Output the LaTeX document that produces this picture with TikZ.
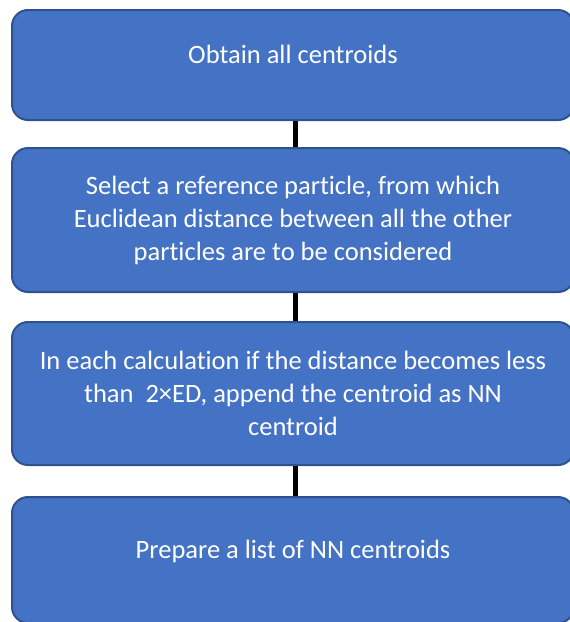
\documentclass[tikz,border=0pt]{standalone}
\usepackage{fontspec}
\setmainfont{Carlito}[Ligatures=NoCommon]
\usetikzlibrary{positioning,calc}
\definecolor{boxfill}{HTML}{4472C4}
\definecolor{boxline}{HTML}{2F528F}
\tikzset{
  flowbox/.style={draw=boxline, line width=2pt, fill=boxfill, rounded corners=16pt,
    text=white, align=center, minimum width=562pt, inner sep=0pt,
    font=\fontsize{26.5}{33}\selectfont},
  raised/.style={text height=19pt, text depth=23pt},
  link/.style={line width=5.5pt, black}
}
\begin{document}
\begin{tikzpicture}[x=1pt,y=-1pt]
  \useasboundingbox (0,0) rectangle (570,622);
  \clip (0,0) rectangle (570,622);

  % Caixas
  \node[flowbox, raised, minimum height=110pt] (cent) at (293,65) {Obtain all centroids};
  \node[flowbox, minimum height=144pt] (refp) at (293,220)
    {Select a reference particle, from which\\Euclidean distance between all the other\\particles are to be considered};
  \node[flowbox, minimum height=143pt] (calc) at (293,393.5)
    {In each calculation if the distance becomes less\\than\ \ 2×ED, append the centroid as NN\\centroid};
  \node[flowbox, raised, minimum height=126pt] (list) at (293,560) {Prepare a list of NN centroids};

  % Ligações
  \draw[link] ([xshift=2.5pt]cent.south) -- ([xshift=2.5pt]refp.north);
  \draw[link] ([xshift=2.5pt]refp.south) -- ([xshift=2.5pt]calc.north);
  \draw[link] ([xshift=2.5pt]calc.south) -- ([xshift=2.5pt]list.north);
\end{tikzpicture}
\end{document}
